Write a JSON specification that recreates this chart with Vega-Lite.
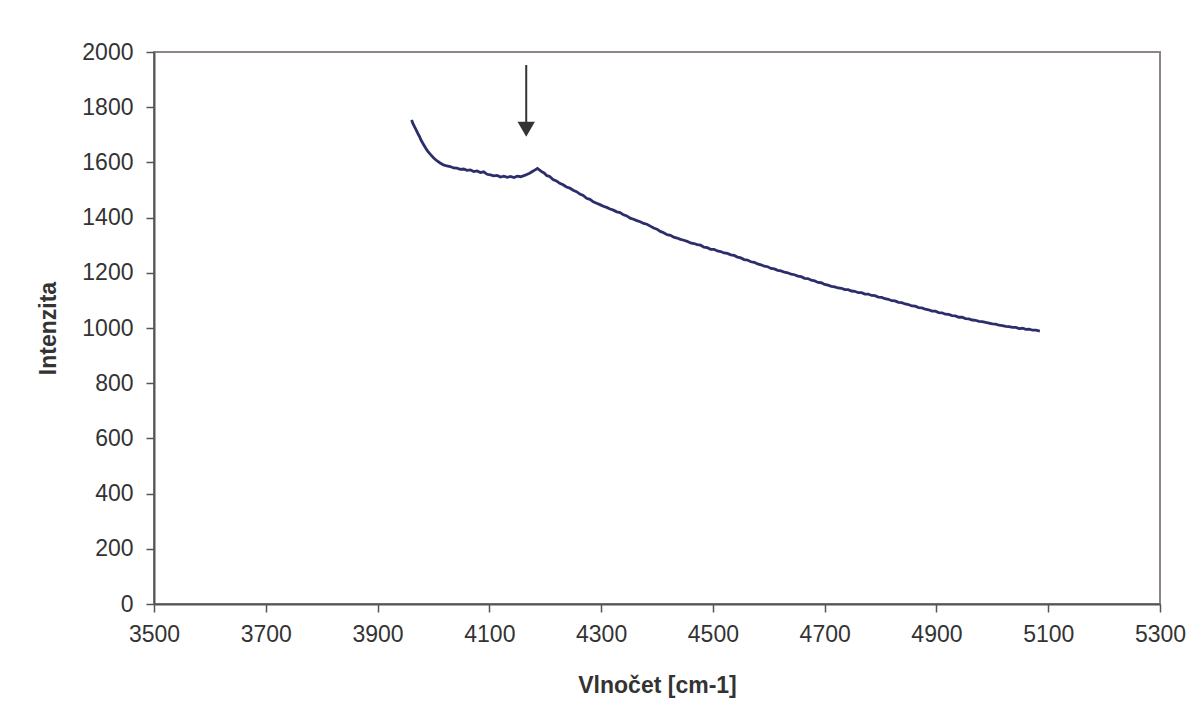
{
  "$schema": "https://vega.github.io/schema/vega-lite/v6.json",
  "width": 1006,
  "height": 552,
  "autosize": {"type": "none"},
  "padding": {"left": 154, "top": 52, "right": 38, "bottom": 120},
  "background": "white",
  "config": {
    "font": "Liberation Sans",
    "view": {"stroke": "#8e8585", "strokeWidth": 2},
    "axis": {
      "grid": false,
      "domainColor": "#555555",
      "domainWidth": 2,
      "tickColor": "#555555",
      "tickWidth": 1.5,
      "tickSize": 8,
      "labelFont": "Liberation Sans",
      "labelFontSize": 23,
      "labelColor": "#333333",
      "titleFont": "Liberation Sans",
      "titleFontSize": 23,
      "titleFontWeight": "bold",
      "titleColor": "#333333"
    }
  },
  "layer": [
    {
      "data": {"values": [
        {"x":3961,"y":1754},{"x":3963,"y":1742},{"x":3966,"y":1730},{"x":3969,"y":1718},{"x":3972,"y":1705},{"x":3975,"y":1694},{"x":3978,"y":1680},{"x":3982,"y":1666},{"x":3986,"y":1652},{"x":3990,"y":1640},{"x":3995,"y":1628},{"x":4000,"y":1617},{"x":4006,"y":1606},{"x":4012,"y":1598},{"x":4018,"y":1591},{"x":4024,"y":1587},{"x":4030,"y":1585},{"x":4036,"y":1580},{"x":4042,"y":1579},{"x":4048,"y":1575},{"x":4054,"y":1576},{"x":4060,"y":1571},{"x":4066,"y":1573},{"x":4072,"y":1567},{"x":4078,"y":1569},{"x":4084,"y":1563},{"x":4090,"y":1566},{"x":4096,"y":1557},{"x":4102,"y":1555},{"x":4108,"y":1551},{"x":4114,"y":1553},{"x":4120,"y":1547},{"x":4126,"y":1550},{"x":4132,"y":1546},{"x":4138,"y":1549},{"x":4144,"y":1545},{"x":4150,"y":1550},{"x":4156,"y":1548},{"x":4162,"y":1552},{"x":4167,"y":1556},{"x":4172,"y":1561},{"x":4177,"y":1567},{"x":4182,"y":1573},{"x":4186,"y":1578},{"x":4190,"y":1572},{"x":4194,"y":1566},{"x":4198,"y":1562},{"x":4203,"y":1552},{"x":4208,"y":1549},{"x":4214,"y":1538},{"x":4220,"y":1533},{"x":4226,"y":1524},{"x":4232,"y":1519},{"x":4238,"y":1511},{"x":4244,"y":1507},{"x":4250,"y":1499},{"x":4256,"y":1494},{"x":4262,"y":1485},{"x":4268,"y":1480},{"x":4274,"y":1470},{"x":4280,"y":1466},{"x":4286,"y":1457},{"x":4292,"y":1452},{"x":4298,"y":1447},{"x":4304,"y":1441},{"x":4310,"y":1437},{"x":4316,"y":1431},{"x":4322,"y":1427},{"x":4328,"y":1421},{"x":4334,"y":1418},{"x":4340,"y":1410},{"x":4346,"y":1406},{"x":4352,"y":1398},{"x":4358,"y":1394},{"x":4364,"y":1389},{"x":4370,"y":1385},{"x":4376,"y":1379},{"x":4382,"y":1376},{"x":4388,"y":1369},{"x":4394,"y":1362},{"x":4400,"y":1358},{"x":4406,"y":1350},{"x":4412,"y":1345},{"x":4418,"y":1338},{"x":4424,"y":1336},{"x":4430,"y":1329},{"x":4436,"y":1326},{"x":4442,"y":1321},{"x":4448,"y":1318},{"x":4454,"y":1314},{"x":4460,"y":1308},{"x":4466,"y":1306},{"x":4472,"y":1302},{"x":4478,"y":1300},{"x":4484,"y":1293},{"x":4490,"y":1291},{"x":4496,"y":1285},{"x":4502,"y":1285},{"x":4508,"y":1279},{"x":4514,"y":1277},{"x":4520,"y":1272},{"x":4526,"y":1270},{"x":4532,"y":1265},{"x":4538,"y":1263},{"x":4544,"y":1257},{"x":4550,"y":1254},{"x":4556,"y":1248},{"x":4562,"y":1246},{"x":4568,"y":1240},{"x":4574,"y":1238},{"x":4580,"y":1232},{"x":4586,"y":1229},{"x":4592,"y":1224},{"x":4598,"y":1222},{"x":4604,"y":1216},{"x":4610,"y":1214},{"x":4616,"y":1209},{"x":4622,"y":1207},{"x":4628,"y":1202},{"x":4634,"y":1200},{"x":4640,"y":1195},{"x":4646,"y":1193},{"x":4652,"y":1188},{"x":4658,"y":1186},{"x":4664,"y":1180},{"x":4670,"y":1179},{"x":4676,"y":1173},{"x":4682,"y":1171},{"x":4688,"y":1165},{"x":4694,"y":1164},{"x":4700,"y":1158},{"x":4706,"y":1155},{"x":4712,"y":1151},{"x":4718,"y":1149},{"x":4724,"y":1145},{"x":4730,"y":1144},{"x":4736,"y":1139},{"x":4742,"y":1139},{"x":4748,"y":1134},{"x":4754,"y":1133},{"x":4760,"y":1128},{"x":4766,"y":1128},{"x":4772,"y":1123},{"x":4778,"y":1123},{"x":4784,"y":1118},{"x":4790,"y":1117},{"x":4796,"y":1112},{"x":4802,"y":1111},{"x":4808,"y":1106},{"x":4814,"y":1104},{"x":4820,"y":1099},{"x":4826,"y":1098},{"x":4832,"y":1093},{"x":4838,"y":1092},{"x":4844,"y":1087},{"x":4850,"y":1085},{"x":4856,"y":1080},{"x":4862,"y":1079},{"x":4868,"y":1074},{"x":4874,"y":1073},{"x":4880,"y":1068},{"x":4886,"y":1066},{"x":4892,"y":1061},{"x":4898,"y":1061},{"x":4904,"y":1056},{"x":4910,"y":1055},{"x":4916,"y":1050},{"x":4922,"y":1049},{"x":4928,"y":1045},{"x":4934,"y":1044},{"x":4940,"y":1039},{"x":4946,"y":1039},{"x":4952,"y":1034},{"x":4958,"y":1033},{"x":4964,"y":1029},{"x":4970,"y":1028},{"x":4976,"y":1024},{"x":4982,"y":1023},{"x":4988,"y":1020},{"x":4994,"y":1018},{"x":5000,"y":1015},{"x":5006,"y":1014},{"x":5012,"y":1010},{"x":5018,"y":1009},{"x":5024,"y":1006},{"x":5030,"y":1005},{"x":5036,"y":1002},{"x":5042,"y":1002},{"x":5048,"y":998},{"x":5054,"y":999},{"x":5060,"y":995},{"x":5066,"y":996},{"x":5072,"y":992},{"x":5078,"y":992},{"x":5085,"y":989}
      ]},
      "mark": {"type": "line", "color": "#2c2d6b", "strokeWidth": 2.8, "interpolate": "linear"},
      "encoding": {
        "x": {
          "field": "x", "type": "quantitative",
          "scale": {"domain": [3500, 5300], "nice": false, "zero": false},
          "axis": {
            "values": [3500,3700,3900,4100,4300,4500,4700,4900,5100,5300],
            "format": "d",
            "title": "Vlnočet [cm-1]",
            "labelPadding": 11,
            "titlePadding": 28,
            "labelFlush": false
          }
        },
        "y": {
          "field": "y", "type": "quantitative",
          "scale": {"domain": [0, 2000], "nice": false},
          "axis": {
            "values": [0,200,400,600,800,1000,1200,1400,1600,1800,2000],
            "format": "d",
            "title": "Intenzita",
            "labelPadding": 13,
            "titlePadding": 21,
            "labelFlush": false
          }
        }
      }
    },
    {
      "data": {"values": [{"ax": 4166, "ay1": 1953, "ay2": 1745}]},
      "mark": {"type": "rule", "color": "#333333", "strokeWidth": 2},
      "encoding": {
        "x": {"field": "ax", "type": "quantitative"},
        "y": {"field": "ay1", "type": "quantitative"},
        "y2": {"field": "ay2"}
      }
    },
    {
      "data": {"values": [{"ax": 4166, "ay": 1720}]},
      "mark": {"type": "point", "shape": "triangle-down", "filled": true, "color": "#333333", "opacity": 1, "size": 300},
      "encoding": {
        "x": {"field": "ax", "type": "quantitative"},
        "y": {"field": "ay", "type": "quantitative"}
      }
    }
  ]
}
